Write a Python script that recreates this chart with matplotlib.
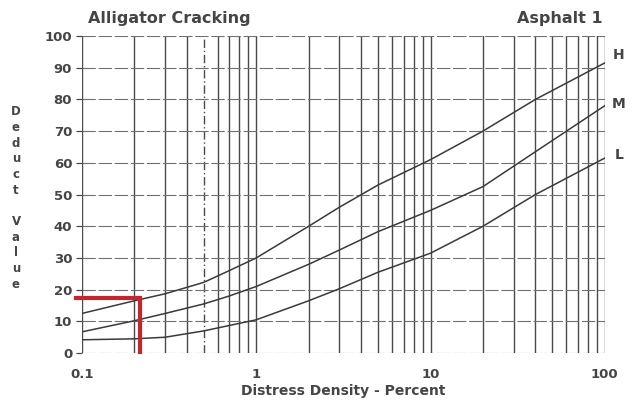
import numpy as np
import matplotlib
matplotlib.use('Agg')
import matplotlib.pyplot as plt

plt.rcParams['font.family'] = ['DejaVu Sans']

# distress density (percent) and deduct values for each severity
density = [0.1, 0.2, 0.3, 0.5, 0.7, 1, 2, 3, 5, 10, 20, 40, 100]
high = [12.5, 16.5, 18.7, 22.3, 26, 30, 40, 46, 53, 61, 70, 80, 91.5]
medium = [6.7, 10.2, 12.5, 15.5, 18, 21, 28, 32.5, 38.3, 45, 52.5, 63.5, 78]
low = [4.2, 4.5, 5, 7, 8.7, 10.5, 16.5, 20.3, 25.5, 31.5, 40, 50, 61.5]

severity = ['H', 'M', 'L']
yticks = list(range(0, 101, 10))
xticks = [0.1, 1, 10, 100]
xticklabels = ['0.1', '1', '10', '100']

# example reading: density 0.215 % -> deduct 17.5
sample_x = 0.215
sample_y = 17.5

txt = '#454545'
grid_c = '#4a4a4a'

fig = plt.figure(figsize=(6.4, 4.04), dpi=100)
ax = fig.add_axes([0.128, 0.126, 0.817, 0.785])
ax.set_xscale('log')
ax.set_xlim(0.1, 100)
ax.set_ylim(0, 100)

# vertical grid at every log minor step
for dec in [0.1, 1, 10]:
    for k in range(1, 10):
        v = dec * k
        if abs(v - 0.5) < 1e-9:
            ax.axvline(v, color=grid_c, lw=1.0, ls=(0, (6, 2, 1, 2)), zorder=1)
        else:
            ax.axvline(v, color=grid_c, lw=1.0, zorder=1)
ax.axvline(100, color=grid_c, lw=1.0, zorder=1)

# horizontal grid
for v in yticks:
    ax.axhline(v, color='#707070', lw=0.8, ls=(0, (12, 2.5)), zorder=1)

ax.plot(density, high, color='#3a3a3a', lw=1.1, zorder=3)
ax.plot(density, medium, color='#3a3a3a', lw=1.1, zorder=3)
ax.plot(density, low, color='#3a3a3a', lw=1.1, zorder=3)

# red guide lines
ax.plot([0.093, sample_x, sample_x], [sample_y, sample_y, 0.5],
        color='#c4262e', lw=3, solid_joinstyle='miter', clip_on=False, zorder=4)

for s in ax.spines.values():
    s.set_visible(False)

ax.set_yticks(yticks)
ax.set_yticklabels([str(v) for v in yticks], fontsize=9.5, fontweight='bold', color=txt)
ax.set_xticks(xticks)
ax.set_xticklabels(xticklabels, fontsize=9.5, fontweight='bold', color=txt)
ax.xaxis.set_minor_locator(matplotlib.ticker.NullLocator())
ax.tick_params(axis='y', length=4, width=0.9, color=grid_c, pad=3)
ax.tick_params(axis='x', length=0, pad=11)

ax.set_xlabel('Distress Density - Percent', fontsize=10, fontweight='bold',
              color=txt, labelpad=2)

fig.text(0.138, 0.955, 'Alligator Cracking', fontsize=11.5, fontweight='bold',
         color=txt, ha='left', va='center')
fig.text(0.942, 0.955, 'Asphalt 1', fontsize=11.5, fontweight='bold',
         color=txt, ha='right', va='center')

# stacked y label
ylab = '\n'.join(list('Deduct') + [''] + list('Value'))
fig.text(0.025, 0.51, ylab, fontsize=8.5, fontweight='bold', color=txt,
         ha='center', va='center', linespacing=1.27)

# severity labels beside the right end of each curve
for name, yv in zip(severity, [94, 78.5, 62.5]):
    ax.text(1.027, yv / 100, name, transform=ax.transAxes, fontsize=10,
            fontweight='bold', color=txt, ha='center', va='center')

fig.savefig('out.png', dpi=100, facecolor='white')
